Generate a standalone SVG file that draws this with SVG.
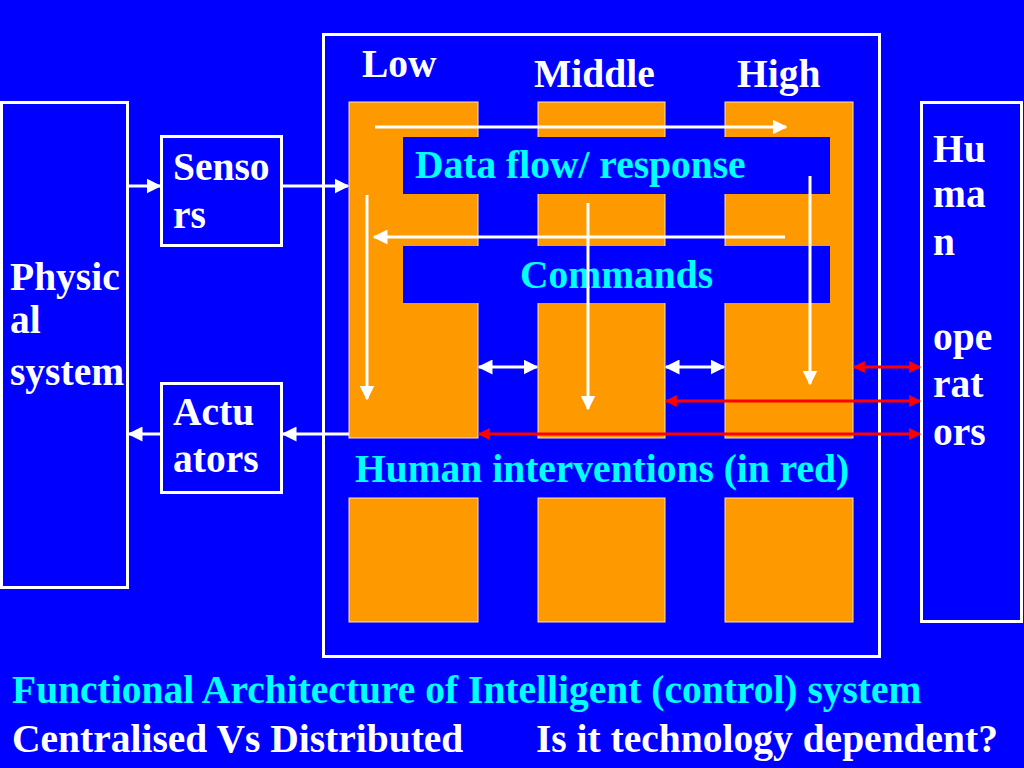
<svg xmlns="http://www.w3.org/2000/svg" width="1024" height="768" viewBox="0 0 1024 768">
<defs>
<style>
.box{fill:none;stroke:#fff;stroke-width:3}
.org{fill:#FF9900;stroke:#FFE0B0;stroke-width:1}
.band{fill:#0000FF}
.t{font-family:"Liberation Serif","Times New Roman",serif;font-weight:bold;font-size:39.5px}
.w{fill:#fff}
.c{fill:#00FFFF}
.wl{stroke:#fff;stroke-width:3;fill:none}
.rl{stroke:#FF0000;stroke-width:3;fill:none}
</style>
<marker id="aw" viewBox="0 0 10 10" refX="9" refY="5" markerWidth="5" markerHeight="5" orient="auto-start-reverse" markerUnits="strokeWidth">
<path d="M0,0 L10,5 L0,10 z" fill="#fff"/>
</marker>
<marker id="ar" viewBox="0 0 10 10" refX="9" refY="5" markerWidth="4.5" markerHeight="4" orient="auto-start-reverse" markerUnits="strokeWidth">
<path d="M0,0 L10,5 L0,10 z" fill="#FF0000"/>
</marker>
</defs>
<rect width="1024" height="768" fill="#0000FF"/>

<g id="frame">
<rect class="box" x="323.5" y="34.5" width="556" height="622"/>
</g>

<g id="columns">
<rect class="org" x="349" y="102" width="129" height="336"/>
<rect class="org" x="538" y="102" width="127" height="336"/>
<rect class="org" x="725" y="102" width="128" height="336"/>
<rect class="org" x="349" y="498" width="129" height="124"/>
<rect class="org" x="538" y="498" width="127" height="124"/>
<rect class="org" x="725" y="498" width="128" height="124"/>
</g>

<g id="data-flow">
<rect class="band" x="403" y="137" width="427" height="57"/>
<text class="t c" x="415" y="178">Data flow/ response</text>
</g>
<g id="commands">
<rect class="band" x="403" y="246" width="427" height="57"/>
<text class="t c" x="520" y="288">Commands</text>
</g>

<g id="labels">
<text class="t w" x="362" y="77">Low</text>
<text class="t w" x="534" y="87">Middle</text>
<text class="t w" x="737" y="87">High</text>
<text class="t c" x="355" y="482">Human interventions (in red)</text>
</g>

<g id="physical-system">
<rect class="box" x="1.5" y="102.5" width="126" height="485"/>
<text class="t w" x="10" y="290">Physic</text>
<text class="t w" x="10" y="333">al</text>
<text class="t w" x="10" y="385">system</text>
</g>

<g id="sensors">
<rect class="box" x="161.5" y="136.5" width="120" height="109"/>
<text class="t w" x="173" y="180">Senso</text>
<text class="t w" x="173" y="228">rs</text>
</g>

<g id="actuators">
<rect class="box" x="161.5" y="383.5" width="120" height="109"/>
<text class="t w" x="173" y="425">Actu</text>
<text class="t w" x="173" y="472">ators</text>
</g>

<g id="human-operators">
<rect class="box" x="921.5" y="102.5" width="100" height="519"/>
<text class="t w" x="933" y="162">Hu</text>
<text class="t w" x="933" y="207">ma</text>
<text class="t w" x="933" y="255">n</text>
<text class="t w" x="933" y="350">ope</text>
<text class="t w" x="933" y="397">rat</text>
<text class="t w" x="933" y="445">ors</text>
</g>

<g id="connectors">
<line class="wl" x1="128" y1="186" x2="160" y2="186" marker-end="url(#aw)"/>
<line class="wl" x1="282" y1="186" x2="348" y2="186" marker-end="url(#aw)"/>
<line class="wl" x1="349" y1="434" x2="283" y2="434" marker-end="url(#aw)"/>
<line class="wl" x1="161" y1="434" x2="129" y2="434" marker-end="url(#aw)"/>
<line class="wl" x1="375" y1="127" x2="786" y2="127" marker-end="url(#aw)"/>
<line class="wl" x1="785" y1="237" x2="374" y2="237" marker-end="url(#aw)"/>
<line class="wl" x1="367" y1="195" x2="367" y2="399" marker-end="url(#aw)"/>
<line class="wl" x1="588" y1="203" x2="588" y2="409" marker-end="url(#aw)"/>
<line class="wl" x1="810" y1="176" x2="810" y2="384" marker-end="url(#aw)"/>
<line class="wl" x1="479" y1="367" x2="537" y2="367" marker-start="url(#aw)" marker-end="url(#aw)"/>
<line class="wl" x1="666" y1="367" x2="724" y2="367" marker-start="url(#aw)" marker-end="url(#aw)"/>
<line class="rl" x1="854" y1="367" x2="920" y2="367" marker-start="url(#ar)" marker-end="url(#ar)"/>
<line class="rl" x1="666" y1="401" x2="920" y2="401" marker-start="url(#ar)" marker-end="url(#ar)"/>
<line class="rl" x1="479" y1="434" x2="920" y2="434" marker-start="url(#ar)" marker-end="url(#ar)"/>
</g>

<g id="caption">
<text class="t c" x="12" y="703">Functional Architecture of Intelligent (control) system</text>
<text class="t w" x="12" y="752">Centralised Vs Distributed</text>
<text class="t w" x="536" y="752">Is it technology dependent?</text>
</g>
</svg>
